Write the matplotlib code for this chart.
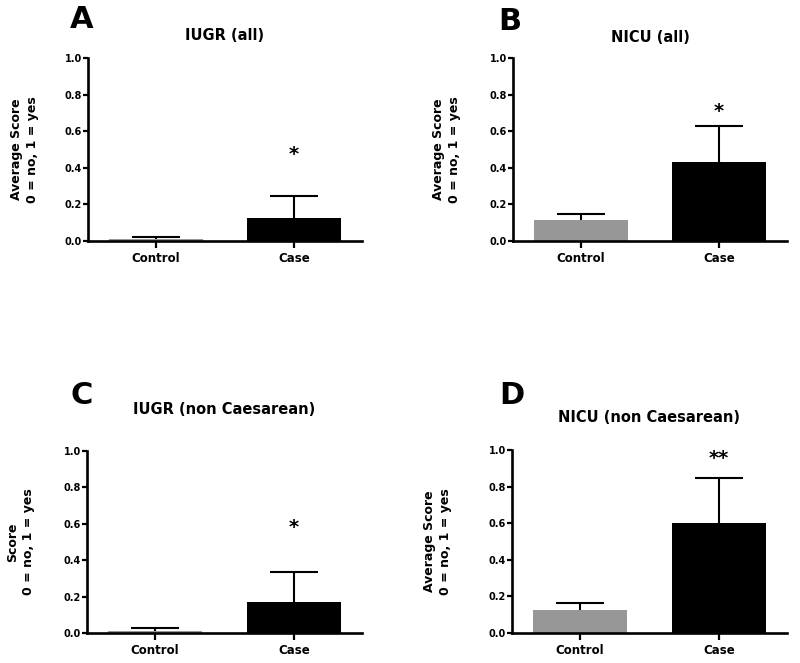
import matplotlib
matplotlib.use("Agg")
import matplotlib.pyplot as plt
import numpy as np

categories = ["Control", "Case"]
panel_letters = ["A", "B", "C", "D"]
panel_titles = ["IUGR (all)", "NICU (all)", "IUGR (non Caesarean)", "NICU (non Caesarean)"]
ylabels = ["Average Score\n0 = no, 1 = yes", "Average Score\n0 = no, 1 = yes",
           "Score\n0 = no, 1 = yes", "Average Score\n0 = no, 1 = yes"]
means_A = [0.01, 0.125]
errs_A = [0.012, 0.122]
means_B = [0.115, 0.43]
errs_B = [0.035, 0.20]
means_C = [0.01, 0.17]
errs_C = [0.015, 0.167]
means_D = [0.125, 0.60]
errs_D = [0.038, 0.245]
stars = ["*", "*", "*", "**"]
star_y = [0.47, 0.71, 0.58, 0.955]
yticks = [0.0, 0.2, 0.4, 0.6, 0.8, 1.0]
ytick_labels = ["0.0", "0.2", "0.4", "0.6", "0.8", "1.0"]

means = [means_A, means_B, means_C, means_D]
errs = [errs_A, errs_B, errs_C, errs_D]

plt.rcParams['font.family'] = ['DejaVu Sans']
plt.rcParams['font.weight'] = 'bold'

W, H = 800, 663
fig = plt.figure(figsize=(8.0, 6.63), dpi=100)

# axes pixel boxes: left, right, top(y=1.0), bottom(y=0)
boxes = [(88, 362, 58, 241), (513, 787, 58, 241), (87, 362, 451, 633), (512, 787, 450, 633)]
title_y = [35, 38, 410, 417]
letter_pos = [(82, 20), (510, 21), (82, 396), (512, 395)]
ylabel_off = [49, 52, 52, 60]

bar_colors = ["#979797", "#000000"]

for i in range(4):
    l, r, t, b = boxes[i]
    ax = fig.add_axes([l / W, 1 - b / H, (r - l) / W, (b - t) / H])
    x = [0, 1]
    ax.bar(x, means[i], width=0.68, color=bar_colors, edgecolor="none", zorder=2)
    eb = ax.errorbar(x, means[i], yerr=[[0, 0], errs[i]], fmt="none", ecolor="black",
                     elinewidth=1.5, capsize=17, capthick=1.5, zorder=3)
    for cl in eb[1]:
        if np.allclose(cl.get_ydata(), means[i]):
            cl.set_visible(False)
    ax.set_xlim(-0.49, 1.49)
    ax.set_ylim(0, 1.0)
    ax.set_yticks(yticks)
    ax.set_yticklabels(ytick_labels, fontsize=7, fontweight="bold")
    ax.set_xticks(x)
    ax.set_xticklabels(categories, fontsize=8.5, fontweight="bold")
    for s in ["top", "right"]:
        ax.spines[s].set_visible(False)
    for s in ["left", "bottom"]:
        ax.spines[s].set_linewidth(1.9)
    ax.tick_params(axis="y", length=3.5, width=1.6, pad=1)
    ax.tick_params(axis="x", length=5, width=1.6, pad=3)
    ax.set_ylabel(ylabels[i], fontsize=9, fontweight="bold", linespacing=1.3)
    ax.yaxis.set_label_coords(-ylabel_off[i] / (r - l), 0.5)
    ax.text(1, star_y[i], stars[i], ha="center", va="center", fontsize=14, fontweight="bold")
    fig.text((l + r) / 2 / W, 1 - title_y[i] / H, panel_titles[i], ha="center", va="center",
             fontsize=10.5, fontweight="bold")
    fig.text(letter_pos[i][0] / W, 1 - letter_pos[i][1] / H, panel_letters[i], ha="center",
             va="center", fontsize=22, fontweight="bold")

fig.savefig("out.png", dpi=100)
